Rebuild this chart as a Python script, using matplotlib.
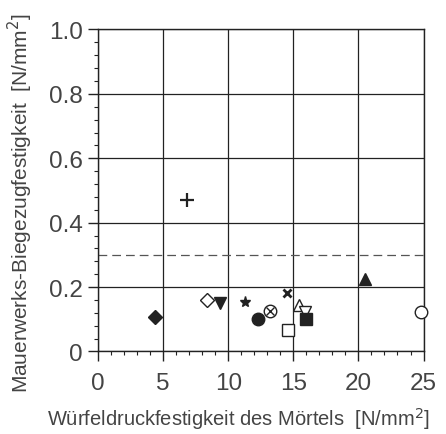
import matplotlib
matplotlib.use("Agg")
import matplotlib.pyplot as plt
from matplotlib.ticker import MultipleLocator

plt.rcParams["font.family"] = ["Liberation Sans", "DejaVu Sans"]

# Wuerfeldruckfestigkeit des Moertels [N/mm2] vs Mauerwerks-Biegezugfestigkeit [N/mm2]
x_plus, y_plus = [6.8], [0.47]
x_tri_up_f, y_tri_up_f = [20.5], [0.225]
x_circ_o, y_circ_o = [24.8], [0.122]
x_diam_f, y_diam_f = [4.4], [0.108]
x_diam_o, y_diam_o = [8.4], [0.160]
x_tri_dn_f, y_tri_dn_f = [9.4], [0.150]
x_star, y_star = [11.3], [0.155]
x_circ_f, y_circ_f = [12.3], [0.100]
x_circ_x, y_circ_x = [13.2], [0.127]
x_cross, y_cross = [14.5], [0.182]
x_sq_o, y_sq_o = [14.6], [0.068]
x_tri_up_o, y_tri_up_o = [15.4], [0.145]
x_tri_dn_o, y_tri_dn_o = [15.9], [0.122]
x_sq_f, y_sq_f = [16.0], [0.101]
limit_value = 0.30

x_ticks = [0, 5, 10, 15, 20, 25]
x_tick_labels = ["0", "5", "10", "15", "20", "25"]
y_ticks = [0, 0.2, 0.4, 0.6, 0.8, 1.0]
y_tick_labels = ["0", "0.2", "0.4", "0.6", "0.8", "1.0"]

ink = "#222222"
txt = "#444444"

fig = plt.figure(figsize=(4.46, 4.35), dpi=100)
ax = fig.add_axes([0.2197, 0.1897, 0.7299, 0.7402])

ax.grid(True, color=ink, linewidth=0.9)
ax.set_axisbelow(True)
ax.axhline(limit_value, color="#555555", linewidth=0.9, dashes=(7, 4))

kw = dict(linestyle="none", clip_on=False, zorder=3)
ax.plot(x_plus, y_plus, marker="+", ms=10, mew=1.6, color=ink, **kw)
ax.plot(x_tri_up_f, y_tri_up_f, marker="^", ms=9, color=ink, **kw)
ax.plot(x_circ_o, y_circ_o, marker="o", ms=9, mfc="white", mec=ink, mew=1.0, **kw)
ax.plot(x_diam_f, y_diam_f, marker="D", ms=7, color=ink, **kw)
ax.plot(x_diam_o, y_diam_o, marker="D", ms=7, mfc="white", mec=ink, mew=1.0, **kw)
ax.plot(x_tri_dn_f, y_tri_dn_f, marker="v", ms=9, color=ink, **kw)
ax.plot(x_star, y_star, marker="*", ms=8, color=ink, **kw)
ax.plot(x_circ_f, y_circ_f, marker="o", ms=9, color=ink, **kw)
ax.plot(x_circ_x, y_circ_x, marker="o", ms=9, mfc="white", mec=ink, mew=1.0, **kw)
ax.plot(x_circ_x, y_circ_x, marker="x", ms=5.5, mew=1.0, color=ink, **kw)
ax.plot(x_cross, y_cross, marker="x", ms=6, mew=2.0, color=ink, **kw)
ax.plot(x_sq_o, y_sq_o, marker="s", ms=9, mfc="white", mec=ink, mew=1.0, **kw)
ax.plot(x_tri_up_o, y_tri_up_o, marker="^", ms=9, mfc="white", mec=ink, mew=1.0, **kw)
ax.plot(x_tri_dn_o, y_tri_dn_o, marker="v", ms=9, mfc="white", mec=ink, mew=1.0, **kw)
ax.plot(x_sq_f, y_sq_f, marker="s", ms=9, color=ink, **kw)

ax.set_xlim(0, 25)
ax.set_ylim(0, 1.0)
ax.set_xticks(x_ticks)
ax.set_xticklabels(x_tick_labels, fontsize=17.5, color=txt)
ax.set_yticks(y_ticks)
ax.set_yticklabels(y_tick_labels, fontsize=17.5, color=txt)
ax.xaxis.set_minor_locator(MultipleLocator(1))
ax.yaxis.set_minor_locator(MultipleLocator(0.04))
ax.tick_params(which="major", direction="out", length=7, width=1.0, color=ink)
ax.tick_params(axis="x", which="major", pad=8)
ax.tick_params(axis="y", which="major", pad=4)
ax.tick_params(which="minor", direction="out", length=3, width=0.8, color=ink)
for s in ax.spines.values():
    s.set_color(ink)
    s.set_linewidth(1.0)

ax.set_xlabel("Würfeldruckfestigkeit des Mörtels  [N/mm$^2$]", fontsize=14.5, color=txt)
ax.set_ylabel("Mauerwerks-Biegezugfestigkeit  [N/mm$^2$]", fontsize=15, color=txt)
ax.xaxis.set_label_coords(0.43, -0.168)
ax.yaxis.set_label_coords(-0.194, 0.462)

fig.savefig("out.png", dpi=100, facecolor="white")
